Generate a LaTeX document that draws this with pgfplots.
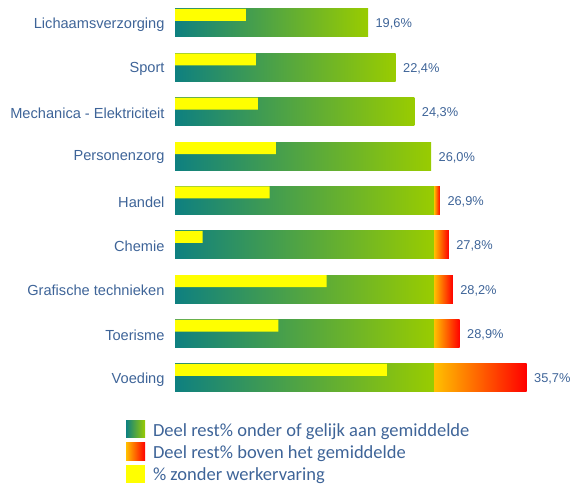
\documentclass[border=0pt]{standalone}
\usepackage{pgfplots}
\pgfplotsset{compat=1.18}
\usepackage{fontspec}
\setmainfont{Liberation Sans}
\newfontfamily\legfont{Carlito}
\definecolor{labelblue}{RGB}{62,100,152}
\definecolor{tealc}{RGB}{14,128,128}
\definecolor{greenc}{RGB}{153,204,0}
\definecolor{orangec}{RGB}{255,192,0}
\definecolor{redc}{RGB}{255,0,0}
\definecolor{yellowc}{RGB}{255,255,0}
% one plot per bar, so that each bar has its own gradient
\newcommand\gbar[2]{\addplot[xbar, bar width=28pt, bar shift=0pt, draw=none, left color=tealc, right color=greenc, forget plot] coordinates {(#1,#2)};}
\newcommand\rbar[2]{\addplot[xbar, bar width=28pt, bar shift=0pt, draw=none, left color=orangec, right color=redc, forget plot] coordinates {(#1,#2)};}
\begin{document}
\begin{tikzpicture}
\pgfplotsset{
  base/.style={
    width=394pt, height=399.4pt, scale only axis,
    xmin=0, xmax=40, ymin=-0.5, ymax=8.5,
    axis line style={draw=none},
    major tick length=0pt,
    xtick=\empty, ytick=\empty,
    clip=false,
  }
}
% part of each bar up to the average (26.3)
\begin{axis}[base,
  ytick={0,...,8},
  yticklabels={Voeding,Toerisme,Grafische technieken,Chemie,Handel,Personenzorg,Mechanica - Elektriciteit,Sport,Lichaamsverzorging},
  yticklabel style={font=\fontsize{14.6}{17}\selectfont, text=labelblue, xshift=-7pt, yshift=-1.3pt},
]
\gbar{26.3}{0}
\gbar{26.3}{1}
\gbar{26.3}{2}
\gbar{26.3}{3}
\gbar{26.3}{4}
\gbar{26.0}{5}
\gbar{24.3}{6}
\gbar{22.4}{7}
\gbar{19.6}{8}
\coordinate (bbA) at (axis cs:-17.77,-2.389);
\coordinate (bbB) at (axis cs:40.71,8.518);
\end{axis}
% part above the average: an axis whose 0 lies at 26.3
\begin{axis}[base, xmin=-26.3, xmax=13.7]
\rbar{9.4}{0}
\rbar{2.6}{1}
\rbar{1.9}{2}
\rbar{1.5}{3}
\rbar{0.6}{4}
\end{axis}
% yellow overlay, value labels and legend
\begin{axis}[base,
  legend style={at={(-0.1324,-0.045)}, anchor=north west, draw=none, fill=none,
    font=\legfont\fontsize{18.5}{22}\selectfont, text=labelblue, row sep=3.2pt,
    /tikz/every odd column/.append style={column sep=6pt}},
  legend cell align=left,
]
\addplot[xbar, bar width=12pt, bar shift=8pt, draw=none, fill=yellowc, forget plot] coordinates {
  (21.5,0) (10.5,1) (15.4,2) (2.8,3) (9.6,4) (10.25,5) (8.4,6) (8.2,7) (7.2,8)};
\addplot[xbar, bar width=0pt, bar shift=0pt, draw=none, fill=none, forget plot,
  nodes near coords, point meta=explicit symbolic,
  nodes near coords style={anchor=west, xshift=4pt, yshift=-1.3pt, font=\fontsize{12.8}{15}\selectfont, text=labelblue}]
  coordinates {
  (35.7,0) [35,7\%] (28.9,1) [28,9\%] (28.2,2) [28,2\%] (27.8,3) [27,8\%] (26.9,4) [26,9\%]
  (26.0,5) [26,0\%] (24.3,6) [24,3\%] (22.4,7) [22,4\%] (19.6,8) [19,6\%]};
\addlegendimage{legend image code/.code={\path[draw=none, left color=tealc, right color=greenc] (0pt,-7.5pt) rectangle (19pt,10pt);}}
\addlegendentry{Deel rest\% onder of gelijk aan gemiddelde}
\addlegendimage{legend image code/.code={\path[draw=none, left color=orangec, right color=redc] (0pt,-7.5pt) rectangle (19pt,10pt);}}
\addlegendentry{Deel rest\% boven het gemiddelde}
\addlegendimage{legend image code/.code={\path[draw=none, fill=yellowc] (0pt,-7.5pt) rectangle (19pt,10pt);}}
\addlegendentry{\% zonder werkervaring}
\end{axis}
\pgfresetboundingbox
\path[use as bounding box] (bbA) rectangle (bbB);
\end{tikzpicture}
\end{document}
